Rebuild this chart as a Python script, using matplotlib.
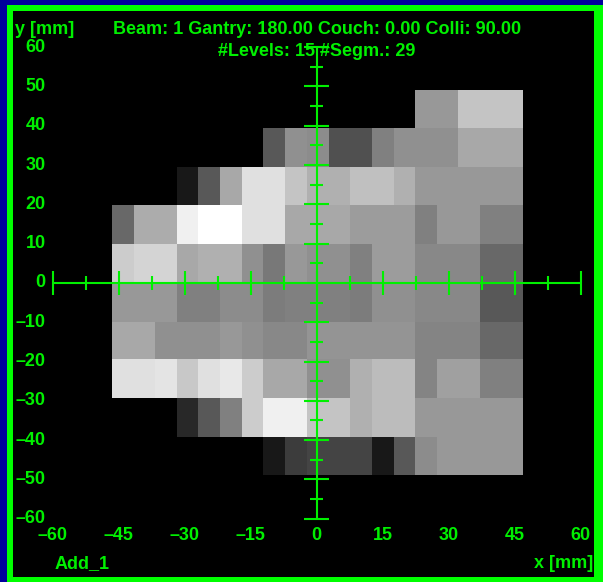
import matplotlib

matplotlib.use("Agg")
import matplotlib.pyplot as plt
import numpy as np
from matplotlib.patches import Rectangle

# fluence map: rows top -> bottom, gray level 0..255, nan = no field
X_EDGES = [-46.6, -41.6, -36.7, -31.8, -26.9, -21.9, -17.0, -12.1, -7.2, -2.2,
           2.7, 7.6, 12.5, 17.5, 22.4, 27.3, 32.2, 37.2, 42.1, 47.0]
Y_EDGES = [49.2, 39.4, 29.6, 19.8, 9.9, 0.0, -9.9, -19.4, -29.2, -39.1, -48.9]
N = np.nan
LEVELS = [
    [N] * 14 + [0x98, 0x98, 0xc4, 0xc4, 0xc4],
    [N] * 7 + [0x58, 0x90, 0x8c, 0x50, 0x50, 0x80, 0x90, 0x90, 0x90, 0xa8, 0xa8, 0xa8],
    [N] * 3 + [0x18, 0x58, 0xa8, 0xe0, 0xe0, 0xc4, 0xb0, 0xb0, 0xc0, 0xc0, 0xb0, 0x98, 0x98, 0x98, 0x98, 0x98],
    [0x68, 0xac, 0xac, 0xf0, 0xff, 0xff, 0xe0, 0xe0, 0xa8, 0xa8, 0xa8, 0x9c, 0x9c, 0x9c, 0x80, 0x98, 0x98, 0x80, 0x80],
    [0xcc, 0xd4, 0xd4, 0xa8, 0xb0, 0xb0, 0x90, 0x78, 0x98, 0x90, 0x90, 0x80, 0x9c, 0x9c, 0x88, 0x88, 0x88, 0x68, 0x68],
    [0x98, 0x98, 0x98, 0x80, 0x80, 0x8c, 0x8c, 0x7c, 0x80, 0x80, 0x80, 0x7c, 0x90, 0x90, 0x88, 0x88, 0x88, 0x58, 0x58],
    [0xa8, 0xa8, 0x90, 0x90, 0x90, 0x98, 0x90, 0x88, 0x88, 0x94, 0x94, 0x94, 0x94, 0x94, 0x84, 0x84, 0x84, 0x68, 0x68],
    [0xe0, 0xe0, 0xe4, 0xc8, 0xe0, 0xe8, 0xcc, 0xa8, 0xa8, 0x90, 0x90, 0xb0, 0xbc, 0xbc, 0x84, 0xa0, 0xa0, 0x80, 0x80],
    [N] * 3 + [0x28, 0x58, 0x80, 0xcc, 0xf0, 0xf0, 0xc4, 0xc4, 0xb0, 0xbc, 0xbc, 0x98, 0x98, 0x98, 0x98, 0x98],
    [N] * 7 + [0x18, 0x3c, 0x44, 0x44, 0x44, 0x18, 0x58, 0x8c, 0x98, 0x98, 0x98, 0x98],
]

X_MAJOR = [-60, -45, -30, -15, 0, 15, 30, 45, 60]
X_MINOR = [-52.5, -37.5, -22.5, -7.5, 7.5, 22.5, 37.5, 52.5]
Y_MAJOR = [60, 50, 40, 30, 20, 10, 0, -10, -20, -30, -40, -50, -60]
Y_MINOR = [55, 45, 35, 25, 15, 5, -5, -15, -25, -35, -45, -55]

TITLE = "Beam: 1 Gantry: 180.00 Couch: 0.00 Colli: 90.00"
SUBTITLE = "#Levels: 15 #Segm.: 29"

GREEN = "#00f000"
BLUE = "#00009c"
FONT = ["Liberation Sans", "DejaVu Sans"]

W, H = 603, 582
fig = plt.figure(figsize=(W / 100, H / 100), dpi=100, facecolor=BLUE)

# frame: blue outside, green border, black panel
fig.patches.append(Rectangle((7 / W, 0), 1 - 7 / W, 1 - 5 / H, transform=fig.transFigure,
                             facecolor="#00ff00", edgecolor="none", zorder=-2))
fig.patches.append(Rectangle((13 / W, 5 / H), (594 - 13) / W, (577 - 11) / H, transform=fig.transFigure,
                             facecolor="black", edgecolor="none", zorder=-1))

ax = fig.add_axes([0, 0, 1, 1])
ax.set_axis_off()
ax.set_xlim(-72.0, 65.1)
ax.set_ylim(-76.1, 72.0)

levels = np.ma.masked_invalid(np.array(LEVELS, dtype=float))
ax.pcolormesh(X_EDGES, Y_EDGES, levels, cmap="gray", vmin=0, vmax=255, shading="flat", zorder=1)

lw = 1.5
ax.plot([X_MAJOR[0], X_MAJOR[-1]], [0, 0], color=GREEN, lw=lw, zorder=3, solid_capstyle="butt")
ax.plot([0, 0], [Y_MAJOR[-1], Y_MAJOR[0]], color=GREEN, lw=lw, zorder=3, solid_capstyle="butt")
ax.vlines(X_MAJOR, -3.0, 3.0, color=GREEN, lw=lw, zorder=3)
ax.vlines(X_MINOR, -1.7, 1.7, color=GREEN, lw=lw, zorder=3)
ax.hlines([v for v in Y_MAJOR if v != 0], -2.8, 2.8, color=GREEN, lw=lw, zorder=3)
ax.hlines(Y_MINOR, -1.45, 1.45, color=GREEN, lw=lw, zorder=3)

txt = dict(color=GREEN, family=FONT, fontsize=13, fontweight="bold", zorder=4)


def fmt(v):
    return f"{v}".replace("-", "\u2013")


for v in Y_MAJOR:
    ax.text(-61.6, v, fmt(v), ha="right", va="center", **txt)
for v in X_MAJOR:
    ax.text(v, -64.3, fmt(v), ha="center", va="center", **txt)

ax.text(-68.6, 64.5, "y [mm]", ha="left", va="center", **txt)
ax.text(0, 64.5, TITLE, ha="center", va="center", **txt)
ax.text(0, 58.8, SUBTITLE, ha="center", va="center", **txt)
ax.text(-59.5, -71.3, "Add_1", ha="left", va="center", **txt)
ax.text(62.8, -71.3, "x [mm]", ha="right", va="center", **txt)

fig.savefig("out.png", dpi=100, facecolor=BLUE)
